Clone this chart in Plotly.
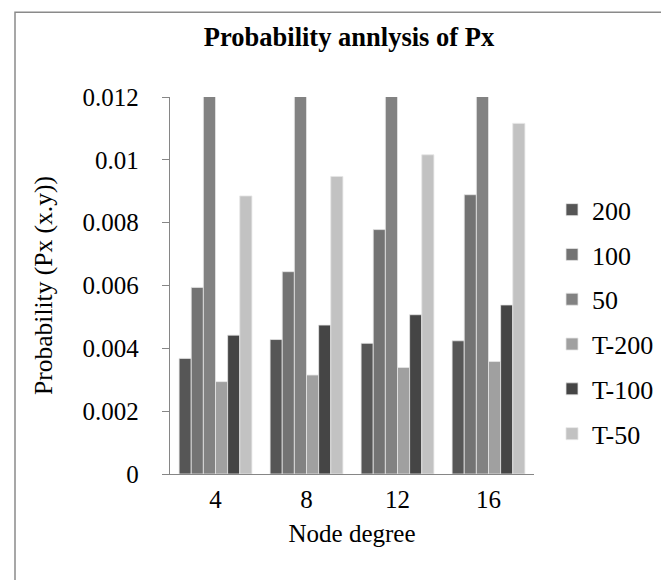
import plotly.graph_objects as go

categories = ["4", "8", "12", "16"]
series_names = ["200", "100", "50", "T-200", "T-100", "T-50"]
s200 = [0.00368, 0.00428, 0.00416, 0.00424]
s100 = [0.00594, 0.00644, 0.00778, 0.00889]
s50 = [0.0130, 0.0130, 0.0130, 0.0130]  # exceeds axis max, clipped at 0.012
t200 = [0.00294, 0.00315, 0.00339, 0.00358]
t100 = [0.00442, 0.00474, 0.00507, 0.00538]
t50 = [0.00885, 0.00947, 0.01016, 0.01116]
y_ticks = [0, 0.002, 0.004, 0.006, 0.008, 0.01, 0.012]
y_ticklabels = ["0", "0.002", "0.004", "0.006", "0.008", "0.01", "0.012"]

colors = ["#565656", "#737373", "#828282", "#a0a0a0", "#454545", "#c2c2c2"]
values = [s200, s100, s50, t200, t100, t50]

FONT = "Liberation Serif"

fig = go.Figure()
for name, vals, col in zip(series_names, values, colors):
    fig.add_trace(go.Bar(
        x=categories, y=vals, name=name, legendgroup=name,
        marker=dict(color=col, line=dict(color="#e6e6e6", width=0.8)),
    ))

W, H = 669, 580
L, R, T, B = 162, 143, 88.7, 114
pw = W - L - R
ph = H - T - B

def px_x(x):
    return (x - L) / pw

def px_y(y):
    return (H - B - y) / ph

fig.add_shape(type="rect", xref="paper", yref="paper",
              x0=px_x(7), x1=px_x(664), y0=px_y(600), y1=px_y(4),
              line=dict(color="#8a8a8a", width=1.5), layer="below")

fig.update_layout(
    width=W, height=H,
    margin=dict(l=L, r=R, t=T, b=B, autoexpand=False),
    paper_bgcolor="white", plot_bgcolor="white",
    barmode="group", bargap=0.2, bargroupgap=0,
    font=dict(family=FONT, size=25, color="black"),
    title=dict(text="<b>Probability annlysis of Px</b>", x=341 / W, xanchor="center",
               y=1 - 29 / H, yanchor="middle", yref="container",
               font=dict(family=FONT, size=26.5, color="black")),
    legend=dict(x=px_x(544), xanchor="left", y=px_y(178), yanchor="top",
                font=dict(family=FONT, size=26, color="black"),
                tracegroupgap=8, bgcolor="rgba(0,0,0,0)"),
    xaxis=dict(showline=True, linecolor="#868686", linewidth=1.3, ticks="",
               showgrid=False, ticklabelstandoff=3,
               title=dict(text="Node degree", standoff=12, font=dict(family=FONT, size=25))),
    yaxis=dict(range=[0, 0.012], tickvals=y_ticks, ticktext=y_ticklabels,
               showline=True, linecolor="#868686", linewidth=1.3,
               ticks="outside", ticklen=7, tickcolor="#868686", tickwidth=1.3,
               showgrid=False, zeroline=False, ticklabelstandoff=18,
               title=dict(text="Probability (Px (x.y))", standoff=22,
                          font=dict(family=FONT, size=25.5))),
)

fig.write_html("out.html")
